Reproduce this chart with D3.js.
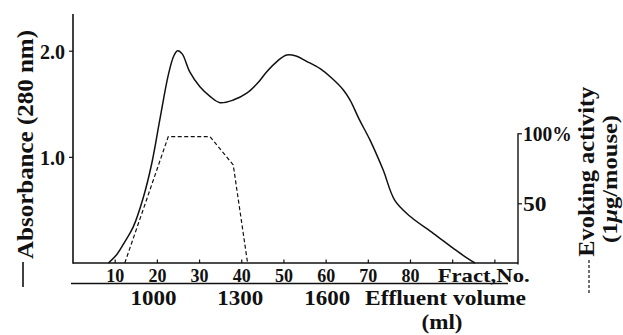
<!DOCTYPE html>
<html><head><meta charset="utf-8">
<script src="https://cdn.jsdelivr.net/npm/d3@7"></script>
<style>
html,body{margin:0;padding:0;background:#fff;}
</style></head>
<body><svg id="c" width="623" height="335"></svg>
<script>
// ---- data ----
const fractions = [8.5,10.5,12.4,14.4,16.8,18.8,20.7,22.7,24,24.9,26,27.8,30.2,32.6,34.95,38.1,41.3,44,46,48.5,50.8,53,55.5,58.7,61.5,64.2,65.8,68,70.5,73.6,76.4,80,85.5,90.2,93,95.4];
const absorbance = [0,0.08,0.2,0.34,0.62,0.94,1.35,1.77,1.95,2.0,1.97,1.80,1.66,1.57,1.51,1.535,1.6,1.7,1.80,1.90,1.96,1.95,1.90,1.83,1.74,1.63,1.535,1.35,1.16,0.88,0.59,0.44,0.28,0.14,0.06,0];
const activityFractions = [12.4,22.7,32.6,38.1,41.5];
const activity = [7.4,97.6,97.6,77.4,7.4];
const fractionTicks = [10,20,30,40,50,60,70,80,90,100];
const fractionLabels = ["10","20","30","40","50","60","70","80","",""];
const volumeTicks = [1000,1300,1600];
const absTicks = [1.0,2.0];
const actTicks = [50,100];
const actTickLabels = ["50","100%"];

// ---- layout ----
const FONT = "Liberation Serif";
const svg = d3.select("#c");
const base = 263, leftX = 73, rightX = 518;
const x = d3.scaleLinear().domain([0,105.6]).range([72.5,518]);
const y = d3.scaleLinear().domain([0,2]).range([263,50.7]);
const yR = d3.scaleLinear().domain([0,100]).range([273.3,133.3]);
const v = d3.scaleLinear().domain([1000,1600]).range([153,326.7]);
const ink = "#111";
function txt(sel){ return sel.attr("font-family",FONT).attr("font-weight","bold").attr("fill",ink); }

// axes lines
svg.append("line").attr("x1",leftX).attr("x2",leftX).attr("y1",14).attr("y2",base+0.7).attr("stroke",ink).attr("stroke-width",1.6);
svg.append("line").attr("x1",leftX).attr("x2",rightX).attr("y1",base).attr("y2",base).attr("stroke",ink).attr("stroke-width",1.6);
svg.append("line").attr("x1",rightX).attr("x2",rightX).attr("y1",133.3).attr("y2",base+1.5).attr("stroke",ink).attr("stroke-width",1.4);
svg.append("line").attr("x1",71).attr("x2",508).attr("y1",283.5).attr("y2",283.5).attr("stroke",ink).attr("stroke-width",1.6);

// fraction axis
const gx = svg.append("g").attr("transform",`translate(0,${base})`)
  .call(d3.axisBottom(x).tickValues(fractionTicks).tickSizeInner(-3.5).tickSizeOuter(0)
    .tickFormat((d,i)=>fractionLabels[i]));
gx.attr("font-family",FONT).attr("font-size",null);
gx.select(".domain").remove();
gx.selectAll(".tick line").attr("stroke",ink).attr("stroke-width",1.2);
gx.selectAll(".tick text").filter(d=>d>=90).remove();
txt(gx.selectAll(".tick text")).attr("y",18.5).attr("dy",0).attr("font-size",19)
  .attr("textLength",18).attr("lengthAdjust","spacingAndGlyphs");
txt(svg.append("text")).attr("x",437.7).attr("y",281.5).attr("font-size",19)
  .attr("textLength",92).attr("lengthAdjust","spacingAndGlyphs").text("Fract,No.");

// volume axis
const gv = svg.append("g").attr("transform","translate(0,283.5)")
  .call(d3.axisBottom(v).tickValues(volumeTicks).tickSize(0).tickFormat(d3.format("d")));
gv.attr("font-family",FONT).attr("font-size",null);
gv.select(".domain").remove();
txt(gv.selectAll(".tick text")).attr("y",21).attr("dy",0).attr("font-size",21)
  .attr("textLength",46).attr("lengthAdjust","spacingAndGlyphs");
txt(svg.append("text")).attr("x",365).attr("y",304.5).attr("font-size",21)
  .attr("textLength",161).attr("lengthAdjust","spacingAndGlyphs").text("Effluent volume");
txt(svg.append("text")).attr("x",442).attr("y",329).attr("text-anchor","middle").attr("font-size",20)
  .attr("textLength",41).attr("lengthAdjust","spacingAndGlyphs").text("(ml)");

// left axis ticks
const gy = svg.append("g").attr("transform",`translate(${leftX},0)`)
  .call(d3.axisLeft(y).tickValues(absTicks).tickSizeInner(4).tickSizeOuter(0).tickPadding(4).tickFormat(d3.format(".1f")));
gy.attr("font-family",FONT).attr("font-size",null);
gy.select(".domain").remove();
gy.selectAll(".tick line").attr("stroke",ink).attr("stroke-width",1.2);
txt(gy.selectAll(".tick text")).attr("dy","0.36em").attr("font-size",21)
  .attr("textLength",25).attr("lengthAdjust","spacingAndGlyphs");

// right axis ticks
const gr = svg.append("g").attr("transform",`translate(${rightX},0)`)
  .call(d3.axisRight(yR).tickValues(actTicks).tickSizeInner(4).tickSizeOuter(0).tickPadding(1)
    .tickFormat((d,i)=>actTickLabels[i]));
gr.attr("font-family",FONT).attr("font-size",null);
gr.select(".domain").remove();
gr.selectAll(".tick line").attr("stroke",ink).attr("stroke-width",1.2);
txt(gr.selectAll(".tick text")).attr("dy","0.36em").attr("font-size",20)
  .attr("textLength",(d)=>d===100?48.7:23.5).attr("lengthAdjust","spacingAndGlyphs");

// curves
const absPts = fractions.map((f,i)=>[f,absorbance[i]]);
svg.append("path").datum(absPts)
  .attr("d",d3.line().x(d=>x(d[0])).y(d=>y(d[1])).curve(d3.curveCatmullRom.alpha(0.5)))
  .attr("fill","none").attr("stroke",ink).attr("stroke-width",1.5);
const actPts = activityFractions.map((f,i)=>[f,activity[i]]);
svg.append("path").datum(actPts)
  .attr("d",d3.line().x(d=>x(d[0])).y(d=>yR(d[1])))
  .attr("fill","none").attr("stroke",ink).attr("stroke-width",1.2).attr("stroke-dasharray","4,2.5");

// titles
svg.append("line").attr("x1",23).attr("x2",23).attr("y1",262).attr("y2",287).attr("stroke",ink).attr("stroke-width",1.6);
txt(svg.append("text")).attr("transform","translate(33,259) rotate(-90)").attr("font-size",24)
  .attr("textLength",229).attr("lengthAdjust","spacingAndGlyphs").text("Absorbance (280 nm)");
svg.append("line").attr("x1",589).attr("x2",589).attr("y1",293).attr("y2",259).attr("stroke",ink).attr("stroke-width",1.2).attr("stroke-dasharray","3,2");
txt(svg.append("text")).attr("transform","translate(594,256.7) rotate(-90)").attr("font-size",23)
  .attr("textLength",170).attr("lengthAdjust","spacingAndGlyphs").text("Evoking activity");
const t2 = txt(svg.append("text")).attr("transform","translate(617,243) rotate(-90)").attr("font-size",22)
  .attr("textLength",128).attr("lengthAdjust","spacingAndGlyphs");
t2.append("tspan").text("(1");
t2.append("tspan").attr("font-style","italic").text("μ");
t2.append("tspan").text("g/mouse)");
</script></body></html>
